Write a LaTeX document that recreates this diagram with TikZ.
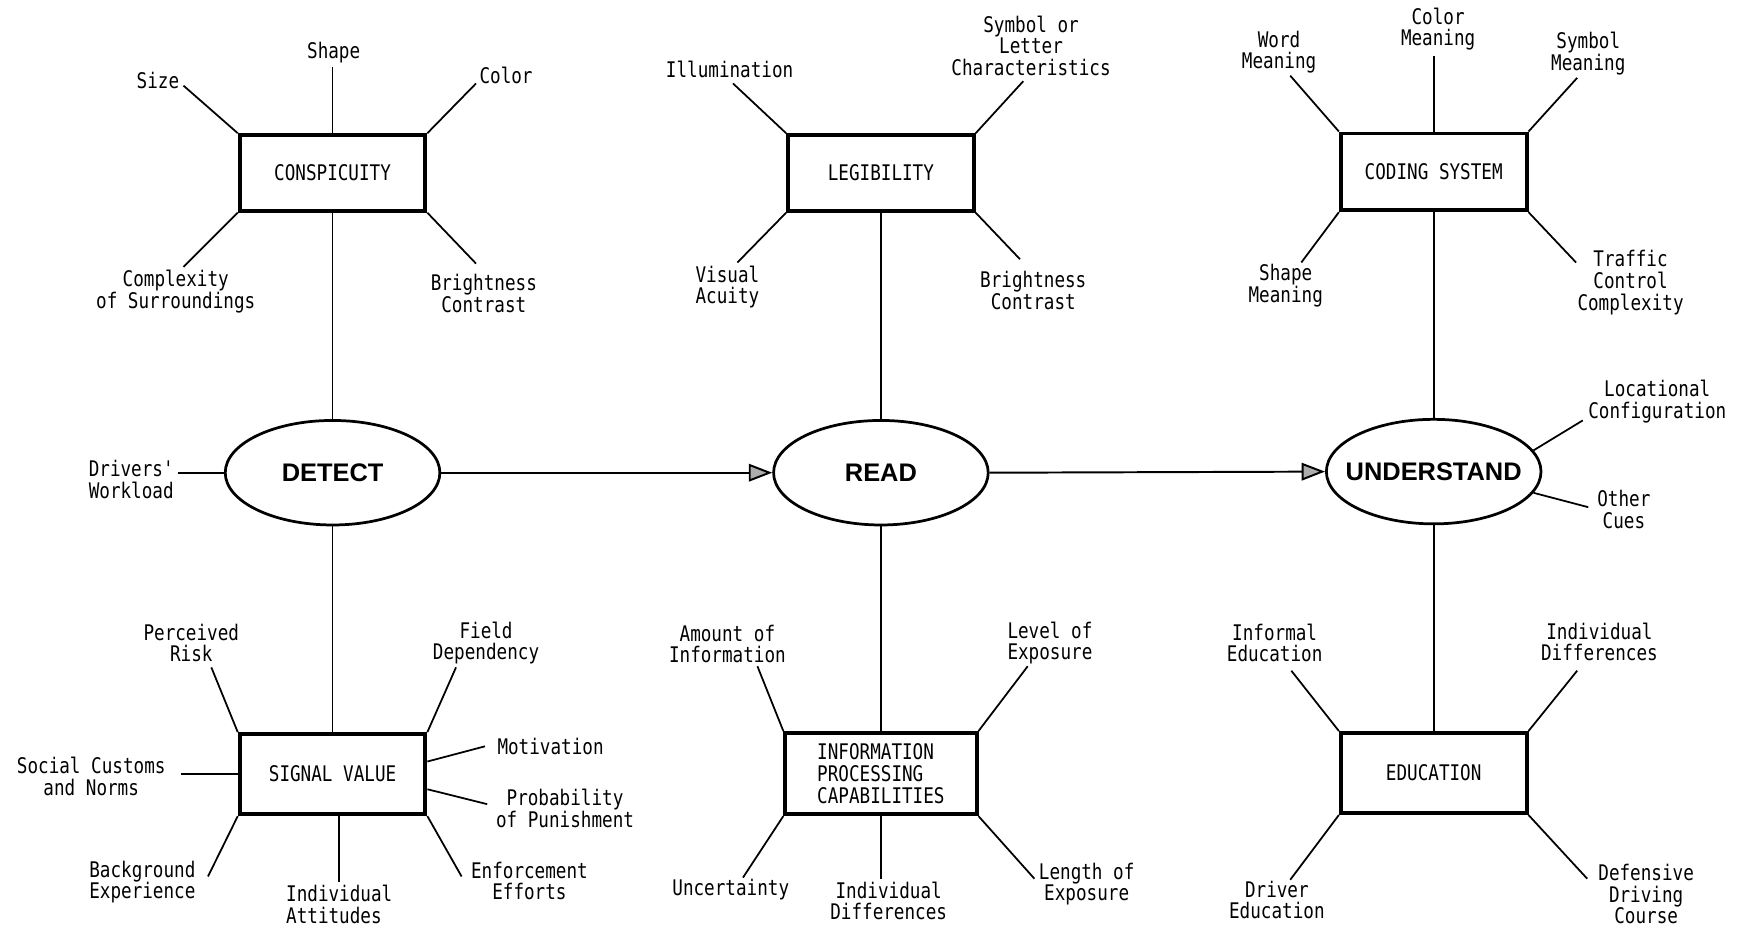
\documentclass[tikz,border=0pt]{standalone}
\usepackage{fontspec}
\newfontfamily\twfont[FakeStretch=0.82]{DejaVu Sans Mono}
\newfontfamily\boldsans{Liberation Sans}
\usetikzlibrary{shapes.geometric,arrows.meta,calc}
\begin{document}
\begin{tikzpicture}[x=0.02cm,y=-0.02cm,
  lbl/.style={font=\twfont\fontsize{11}{11.05}\selectfont, align=center, inner sep=0pt},
  boxnode/.style={draw, line width=2pt, rectangle, minimum width=3.34cm, minimum height=1.36cm, inner sep=0pt, font=\twfont\fontsize{11}{11.05}\selectfont, align=left},
  ellnode/.style={draw, ellipse, line width=1.4pt, minimum width=3.86cm, minimum height=1.88cm, inner sep=0pt, font=\boldsans\bfseries\fontsize{13}{13}\selectfont},
  conn/.style={line width=0.9pt},
  flow/.style={line width=1pt, -{Triangle[length=12pt,width=9pt,fill=gray!65]}}]
\fill[white] (0,0) rectangle (1568,836);
\useasboundingbox (0,0) rectangle (1568,836);

% ---------- main nodes ----------
\node[boxnode] (cons) at (299,155.5) {CONSPICUITY};
\node[boxnode] (leg)  at (792,155.5) {LEGIBILITY};
\node[boxnode, minimum height=1.38cm] (cod) at (1289,154.5) {CODING SYSTEM};
\node[ellnode] (det)  at (299,425) {\makebox[0pt]{DETECT}};
\node[ellnode] (read) at (792,425) {\makebox[0pt]{READ}};
\node[ellnode] (und)  at (1289,424) {\makebox[0pt]{UNDERSTAND}};
\node[boxnode, minimum height=1.44cm] (sig)  at (299,696) {SIGNAL VALUE};
\node[boxnode, minimum height=1.46cm, minimum width=3.44cm] (info) at (792,695.5) {INFORMATION\\PROCESSING\\CAPABILITIES};
\node[boxnode, minimum height=1.44cm] (edu)  at (1289,695) {EDUCATION};

% ---------- labels ----------
\node[lbl] (size)  at (142,72) {Size};
\node[lbl] (shape) at (300,47) {Shape};
\node[lbl] (color) at (455,68) {Color};
\node[lbl] (cplx)  at (158,262) {Complexity\\of Surroundings};
\node[lbl] (bc1)   at (435,264) {Brightness\\Contrast};
\node[lbl] (dw)    at (118,431) {Drivers'\\Workload};
\node[lbl] (pr)    at (172,578) {Perceived\\Risk};
\node[lbl] (fd)    at (437,578) {Field\\Dependency};
\node[lbl] (mot)   at (495,671) {Motivation};
\node[lbl] (prob)  at (508,727) {Probability\\of Punishment};
\node[lbl] (soc)   at (82,698) {Social Customs\\and Norms};
\node[lbl] (bg)    at (128,793) {Background\\Experience};
\node[lbl, align=left] (ia) at (305,813) {Individual\\Attitudes};
\node[lbl] (ee)    at (476,792) {Enforcement\\Efforts};

\node[lbl] (ill)   at (656,62) {Illumination};
\node[lbl] (slc)   at (927,41) {Symbol or\\Letter\\Characteristics};
\node[lbl] (va)    at (654,258) {Visual\\Acuity};
\node[lbl] (bc2)   at (929,261) {Brightness\\Contrast};
\node[lbl] (aoi)   at (654,579) {Amount of\\Information};
\node[lbl] (loe)   at (944,578) {Level of\\Exposure};
\node[lbl] (unc)   at (657,800) {Uncertainty};
\node[lbl] (id2)   at (799,810) {Individual\\Differences};
\node[lbl] (le)    at (977,795) {Length of\\Exposure};

\node[lbl] (wm)    at (1150,47) {Word\\Meaning};
\node[lbl] (cm)    at (1293,26) {Color\\Meaning};
\node[lbl] (sm)    at (1428,48) {Symbol\\Meaning};
\node[lbl] (shm)   at (1156,257) {Shape\\Meaning};
\node[lbl] (tcc)   at (1466,254) {Traffic\\Control\\Complexity};
\node[lbl] (lc)    at (1490,361) {Locational\\Configuration};
\node[lbl] (oc)    at (1460,458) {Other\\Cues};
\node[lbl] (ie)    at (1146,578) {Informal\\Education};
\node[lbl] (id3)   at (1438,577) {Individual\\Differences};
\node[lbl] (de)    at (1148,809) {Driver\\Education};
\node[lbl] (ddc)   at (1480,804) {Defensive\\Driving\\Course};

% ---------- free ends of spokes ----------
\coordinate (sizeE)  at (165,77);
\coordinate (shapeE) at (299,60);
\coordinate (colorE) at (428,75);
\coordinate (cplxE)  at (165,240);
\coordinate (bc1E)   at (428,237);
\coordinate (dwE)    at (160,425);
\coordinate (prE)    at (190,600);
\coordinate (fdE)    at (410,600);
\coordinate (motE)   at (436,671);
\coordinate (probE)  at (438,723);
\coordinate (socE)   at (163,696);
\coordinate (bgE)    at (187,788);
\coordinate (iaE)    at (305,793);
\coordinate (eeE)    at (415,788);

\coordinate (illE)   at (659,75);
\coordinate (slcE)   at (920,73);
\coordinate (vaE)    at (663,236);
\coordinate (bc2E)   at (917,233);
\coordinate (aoiE)   at (681,599);
\coordinate (loeE)   at (924,599);
\coordinate (uncE)   at (668,789);
\coordinate (id2E)   at (792,790);
\coordinate (leE)    at (930,790);

\coordinate (wmE)    at (1160,68);
\coordinate (cmE)    at (1289,50);
\coordinate (smE)    at (1418,70);
\coordinate (shmE)   at (1170,236);
\coordinate (tccE)   at (1417,236);
\coordinate (lcE)    at (1423,378);
\coordinate (ocE)    at (1428,456);
\coordinate (ieE)    at (1161,603);
\coordinate (id3E)   at (1418,603);
\coordinate (deE)    at (1160,791);
\coordinate (ddcE)   at (1427,790);

% ---------- connectors ----------
\begin{scope}[conn]
\draw (cons.north west) -- (sizeE);
\draw (cons.north) -- (shapeE);
\draw (cons.north east) -- (colorE);
\draw (cons.south west) -- (cplxE);
\draw (cons.south east) -- (bc1E);
\draw (cons.south) -- (det.north);
\draw (det.west) -- (dwE);
\draw (det.south) -- (sig.north);
\draw (sig.north west) -- (prE);
\draw (sig.north east) -- (fdE);
\draw ($(sig.north east)!0.35!(sig.south east)$) -- (motE);
\draw ($(sig.north east)!0.68!(sig.south east)$) -- (probE);
\draw (sig.west) -- (socE);
\draw (sig.south west) -- (bgE);
\draw (iaE |- sig.south) -- (iaE);
\draw (sig.south east) -- (eeE);

\draw (leg.north west) -- (illE);
\draw (leg.north east) -- (slcE);
\draw (leg.south west) -- (vaE);
\draw (leg.south east) -- (bc2E);
\draw (leg.south) -- (read.north);
\draw (read.south) -- (info.north);
\draw (info.north west) -- (aoiE);
\draw (info.north east) -- (loeE);
\draw (info.south west) -- (uncE);
\draw (info.south) -- (id2E);
\draw (info.south east) -- (leE);

\draw (cod.north west) -- (wmE);
\draw (cod.north) -- (cmE);
\draw (cod.north east) -- (smE);
\draw (cod.south west) -- (shmE);
\draw (cod.south east) -- (tccE);
\draw (cod.south) -- (und.north);
\draw (und.12) -- (lcE);
\draw (und.-12) -- (ocE);
\draw (und.south) -- (edu.north);
\draw (edu.north west) -- (ieE);
\draw (edu.north east) -- (id3E);
\draw (edu.south west) -- (deE);
\draw (edu.south east) -- (ddcE);
\end{scope}

\draw[flow] (det.east) -- (read.west);
\draw[flow] (read.east) -- (und.west);
\end{tikzpicture}
\end{document}
